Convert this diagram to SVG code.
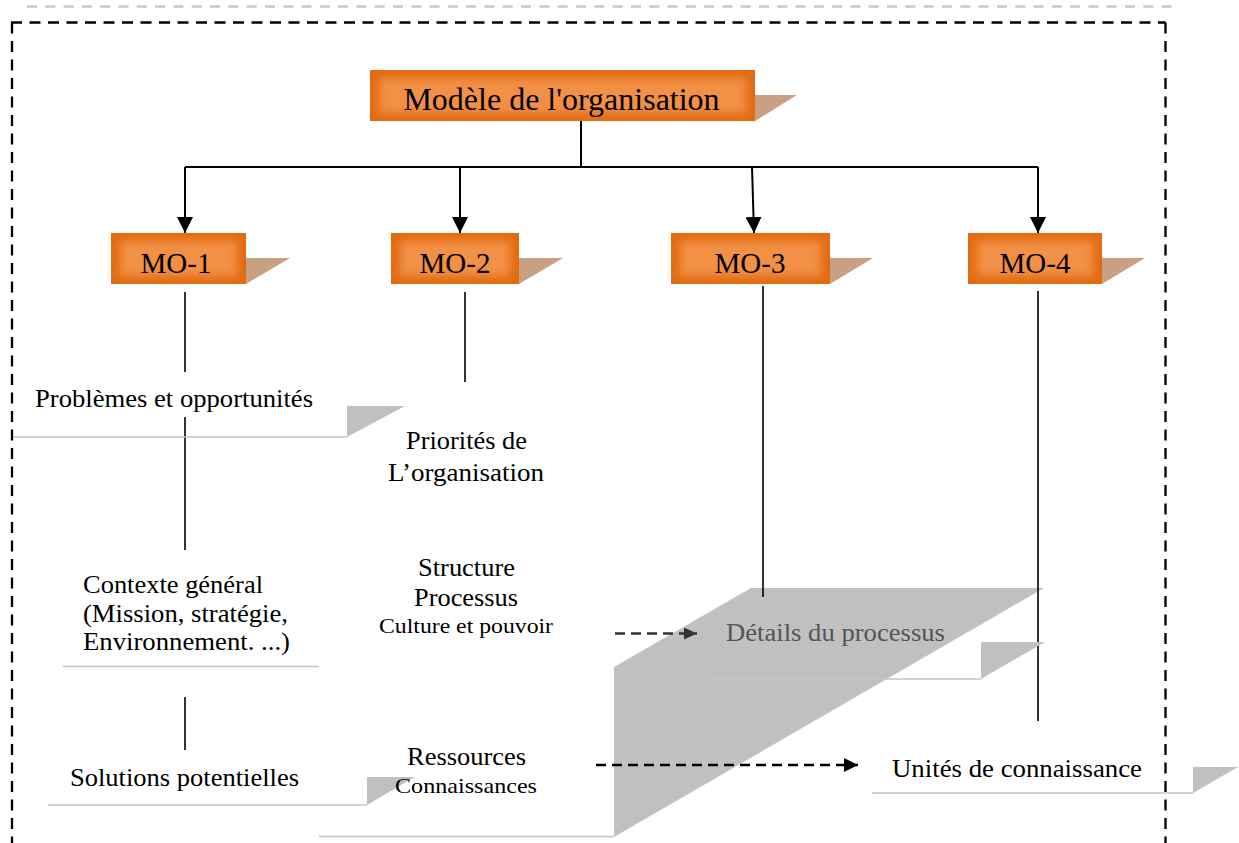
<svg xmlns="http://www.w3.org/2000/svg" width="1239" height="843" viewBox="0 0 1239 843">
  <defs>
    <filter id="glow" x="-20%" y="-50%" width="140%" height="200%">
      <feGaussianBlur stdDeviation="4"/>
    </filter>
    <marker id="arrowBlack" markerWidth="16" markerHeight="16" refX="16" refY="8" orient="auto" markerUnits="userSpaceOnUse">
      <path d="M0,0 L16,8 L0,16 Z" fill="#000"/>
    </marker>
    <marker id="arrowDark" markerWidth="13" markerHeight="12" refX="13" refY="6" orient="auto" markerUnits="userSpaceOnUse">
      <path d="M0,0 L13,6 L0,12 Z" fill="#333"/>
    </marker>
    <marker id="arrowBlk2" markerWidth="14" markerHeight="14" refX="14" refY="7" orient="auto" markerUnits="userSpaceOnUse">
      <path d="M0,0 L14,7 L0,14 Z" fill="#000"/>
    </marker>
  </defs>
  <style>
    .box { fill: #e26b12; }
    .inner { fill: #f29045; filter: url(#glow); }
    .tan { fill: #c9a182; }
    .gray { fill: #c0c0c0; }
    .base { stroke: #c4c4c4; stroke-width: 1.3; fill: none; }
    .t { font-family: "Liberation Serif", "Times New Roman", serif; fill: #000; }
    .lbl { font-size: 25px; }
    .mo { font-size: 29px; text-anchor: middle; }
    .conn { stroke: #000; stroke-width: 2; fill: none; }
    .thin { stroke: #000; stroke-width: 1.6; fill: none; }
  </style>
  <rect width="1239" height="843" fill="#fff"/>

  <!-- frame -->
  <g id="frame">
    <line x1="27" y1="6.5" x2="1176" y2="6.5" stroke="#c8c8c8" stroke-width="2.5" stroke-dasharray="10 8.3"/>
    <path d="M11,22.5 H1165.5 M12,22.5 V843 M1165.5,22.5 V843" stroke="#000" stroke-width="2.3" fill="none" stroke-dasharray="11 7.5"/>
  </g>

  <!-- big gray 3D shape behind Détails du processus -->
  <g id="shape-process-depth">
    <polygon class="gray" points="751,588 1044,588 614,837 614,667"/>
    <line class="base" x1="319" y1="836.5" x2="614" y2="836.5"/>
  </g>

  <!-- connectors -->
  <g id="connectors">
    <line class="conn" x1="581" y1="121" x2="581" y2="167"/>
    <line class="conn" x1="185" y1="167" x2="1038" y2="167"/>
    <line class="conn" x1="185" y1="167" x2="185" y2="233" marker-end="url(#arrowBlack)"/>
    <line class="conn" x1="460" y1="167" x2="460" y2="233" marker-end="url(#arrowBlack)"/>
    <line class="conn" x1="752" y1="167" x2="754" y2="233" marker-end="url(#arrowBlack)"/>
    <line class="conn" x1="1038" y1="167" x2="1038" y2="233" marker-end="url(#arrowBlack)"/>
    <line class="thin" x1="185" y1="292" x2="185" y2="372"/>
    <line class="thin" x1="185" y1="417" x2="185" y2="550"/>
    <line class="thin" x1="185" y1="697" x2="185" y2="750"/>
    <line class="thin" x1="465" y1="292" x2="465" y2="382"/>
    <line class="thin" x1="763" y1="286" x2="763" y2="597"/>
    <line class="thin" x1="1038" y1="291" x2="1038" y2="721"/>
    <line x1="615" y1="633.5" x2="697" y2="633.5" stroke="#333" stroke-width="2.3" stroke-dasharray="10 6" marker-end="url(#arrowDark)"/>
    <line x1="596" y1="765" x2="858" y2="765" stroke="#000" stroke-width="2.3" stroke-dasharray="10 6" marker-end="url(#arrowBlk2)"/>
  </g>

  <!-- title -->
  <g id="node-title">
    <polygon class="tan" points="755,95 797,95 755,121"/>
    <rect class="box" x="370" y="70" width="385" height="51"/>
    <rect class="inner" x="379" y="78" width="367" height="35"/>
    <text class="t" x="561.5" y="110" font-size="32" text-anchor="middle">Modèle de l'organisation</text>
  </g>

  <g id="node-mo1">
    <polygon class="tan" points="246,258 290,258 246,284"/>
    <rect class="box" x="111" y="233" width="135" height="51"/>
    <rect class="inner" x="120" y="241" width="117" height="35"/>
    <text class="t mo" x="176" y="273">MO-1</text>
  </g>
  <g id="node-mo2">
    <polygon class="tan" points="519,258 563,258 519,284"/>
    <rect class="box" x="391" y="233" width="128" height="51"/>
    <rect class="inner" x="400" y="241" width="110" height="35"/>
    <text class="t mo" x="455" y="273">MO-2</text>
  </g>
  <g id="node-mo3">
    <polygon class="tan" points="830,258 873,258 830,284"/>
    <rect class="box" x="671" y="233" width="159" height="51"/>
    <rect class="inner" x="680" y="241" width="141" height="35"/>
    <text class="t mo" x="750" y="273">MO-3</text>
  </g>
  <g id="node-mo4">
    <polygon class="tan" points="1102,258 1145,258 1102,284"/>
    <rect class="box" x="968" y="233" width="134" height="51"/>
    <rect class="inner" x="977" y="241" width="116" height="35"/>
    <text class="t mo" x="1035" y="273">MO-4</text>
  </g>

  <g id="node-problemes">
    <polygon class="gray" points="347,406 405,406 347,437"/>
    <line class="base" x1="13" y1="437" x2="347" y2="437"/>
    <text class="t lbl" x="35" y="407" textLength="278" lengthAdjust="spacingAndGlyphs">Problèmes et opportunités</text>
  </g>

  <g id="node-contexte">
    <line class="base" x1="63" y1="666.5" x2="319" y2="666.5"/>
    <text class="t lbl" x="83" y="593" textLength="180" lengthAdjust="spacingAndGlyphs">Contexte général</text>
    <text class="t lbl" x="83" y="622" textLength="205" lengthAdjust="spacingAndGlyphs">(Mission, stratégie,</text>
    <text class="t lbl" x="83" y="650" textLength="207" lengthAdjust="spacingAndGlyphs">Environnement. ...)</text>
  </g>

  <g id="node-solutions">
    <polygon class="gray" points="367,777 415,777 367,805"/>
    <line class="base" x1="48" y1="805" x2="367" y2="805"/>
    <text class="t lbl" x="70" y="786" textLength="229" lengthAdjust="spacingAndGlyphs">Solutions potentielles</text>
  </g>

  <g id="node-priorites">
    <text class="t lbl" x="406" y="449" textLength="121" lengthAdjust="spacingAndGlyphs">Priorités de</text>
    <text class="t lbl" x="388" y="481" textLength="156" lengthAdjust="spacingAndGlyphs">L’organisation</text>
  </g>

  <g id="node-structure">
    <text class="t lbl" x="418" y="576" textLength="97" lengthAdjust="spacingAndGlyphs">Structure</text>
    <text class="t lbl" x="414" y="606" textLength="104" lengthAdjust="spacingAndGlyphs">Processus</text>
    <text class="t" x="379" y="633" font-size="21.5" textLength="174" lengthAdjust="spacingAndGlyphs">Culture et pouvoir</text>
  </g>

  <g id="node-ressources">
    <text class="t lbl" x="407" y="765" textLength="119" lengthAdjust="spacingAndGlyphs">Ressources</text>
    <text class="t" x="395" y="793" font-size="21.5" textLength="142" lengthAdjust="spacingAndGlyphs">Connaissances</text>
  </g>

  <g id="node-details">
    <polygon class="gray" points="981,642 1045,642 981,679"/>
    <line class="base" x1="706" y1="679" x2="981" y2="679"/>
    <text class="t lbl" x="726" y="641" style="fill:#555" textLength="219" lengthAdjust="spacingAndGlyphs">Détails du processus</text>
  </g>

  <g id="node-unites">
    <polygon class="gray" points="1193,767 1238,767 1193,793"/>
    <line class="base" x1="872" y1="793" x2="1193" y2="793"/>
    <text class="t lbl" x="892" y="777" textLength="250" lengthAdjust="spacingAndGlyphs">Unités de connaissance</text>
  </g>
</svg>
